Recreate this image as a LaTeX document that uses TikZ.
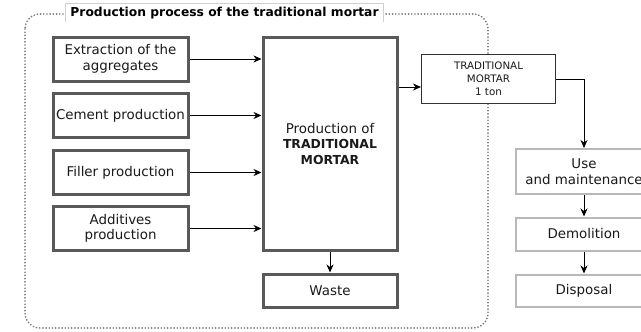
\documentclass[tikz,border=0pt]{standalone}
\usepackage{fontspec}
\setmainfont{DejaVu Sans}
\usetikzlibrary{arrows.meta}
\definecolor{boxdark}{HTML}{595959}
\definecolor{boxlight}{HTML}{B8B8B8}
\definecolor{txt}{HTML}{1A1A1A}
\definecolor{dotgray}{HTML}{7A7A7A}
\definecolor{labelgray}{HTML}{D0D0D0}

\begin{document}
\begin{tikzpicture}[x=1pt,y=-1pt,
  every node/.style={text=txt, font=\fontsize{13.4}{15.5}\selectfont, align=center, inner sep=0pt},
  stage/.style={draw=boxdark, line width=3pt, fill=white, minimum width=135pt, minimum height=44pt},
  product/.style={draw=txt!90, line width=1pt, fill=white, minimum width=134pt, minimum height=49pt,
    font=\fontsize{10.3}{13}\selectfont},
  life/.style={draw=boxlight, line width=2pt, fill=white, minimum width=136pt},
  arr/.style={line width=1pt, -{Stealth[length=8pt,width=7pt,inset=2.5pt]}},
  container/.style={draw=dotgray, line width=1.9pt, dash pattern=on 0pt off 3.2pt, line cap=round, rounded corners=15pt}
]
\clip (0,0) rectangle (641,332);
\useasboundingbox (0,0) rectangle (641,332);

% dotted frame of the production stage
\draw[container] (25,14) rectangle (488,328);

% frame title
\node[font=\bfseries\fontsize{12.3}{14}\selectfont, text=black, fill=white,
      minimum width=317pt, minimum height=18pt] (title) at (224.5,13)
      {Production process of the traditional mortar};
\draw[labelgray, line width=0.8pt] (title.south west) -- (title.north west) -- (title.north east) -- (title.south east);

% inputs
\node[stage] (ext) at (120.5,59)    {Extraction of the\\aggregates};
\node[stage] (cem) at (120.5,115.5) {Cement production};
\node[stage] (fil) at (120.5,172.5) {Filler production};
\node[stage] (add) at (120.5,228.5) {Additives\\production};

% main process
\node[stage, minimum width=134pt, minimum height=213pt] (prod) at (330,143.5)
  {Production of\\{\fontsize{12.4}{15.5}\selectfont\bfseries TRADITIONAL}\\{\fontsize{12.4}{15.5}\selectfont\bfseries MORTAR}};
\node[stage, minimum width=134pt, minimum height=33pt] (waste) at (330,290.5) {Waste};

% product
\node[product] (tm) at (488.5,79) {TRADITIONAL\\MORTAR\\1 ton};

% life cycle
\node[life, minimum height=45pt] (use)  at (584,171.5) {Use\\and maintenance};
\node[life, minimum height=33pt] (dem)  at (584,234)   {Demolition};
\node[life, minimum height=32pt] (disp) at (584,290.5) {Disposal};

% connectors
\coordinate (outlevel) at (0,87);
\draw[arr] (ext.east) -- (ext.east -| prod.west);
\draw[arr] (cem.east) -- (cem.east -| prod.west);
\draw[arr] (fil.east) -- (fil.east -| prod.west);
\draw[arr] (add.east) -- (add.east -| prod.west);
\draw[arr] (prod.east |- outlevel) -- (tm.west |- outlevel);
\draw[arr] (prod.south) -- (waste.north);
\draw[arr] (tm.east) -| (use.north);
\draw[arr] (use.south) -- (dem.north);
\draw[arr] (dem.south) -- (disp.north);
\end{tikzpicture}
\end{document}
